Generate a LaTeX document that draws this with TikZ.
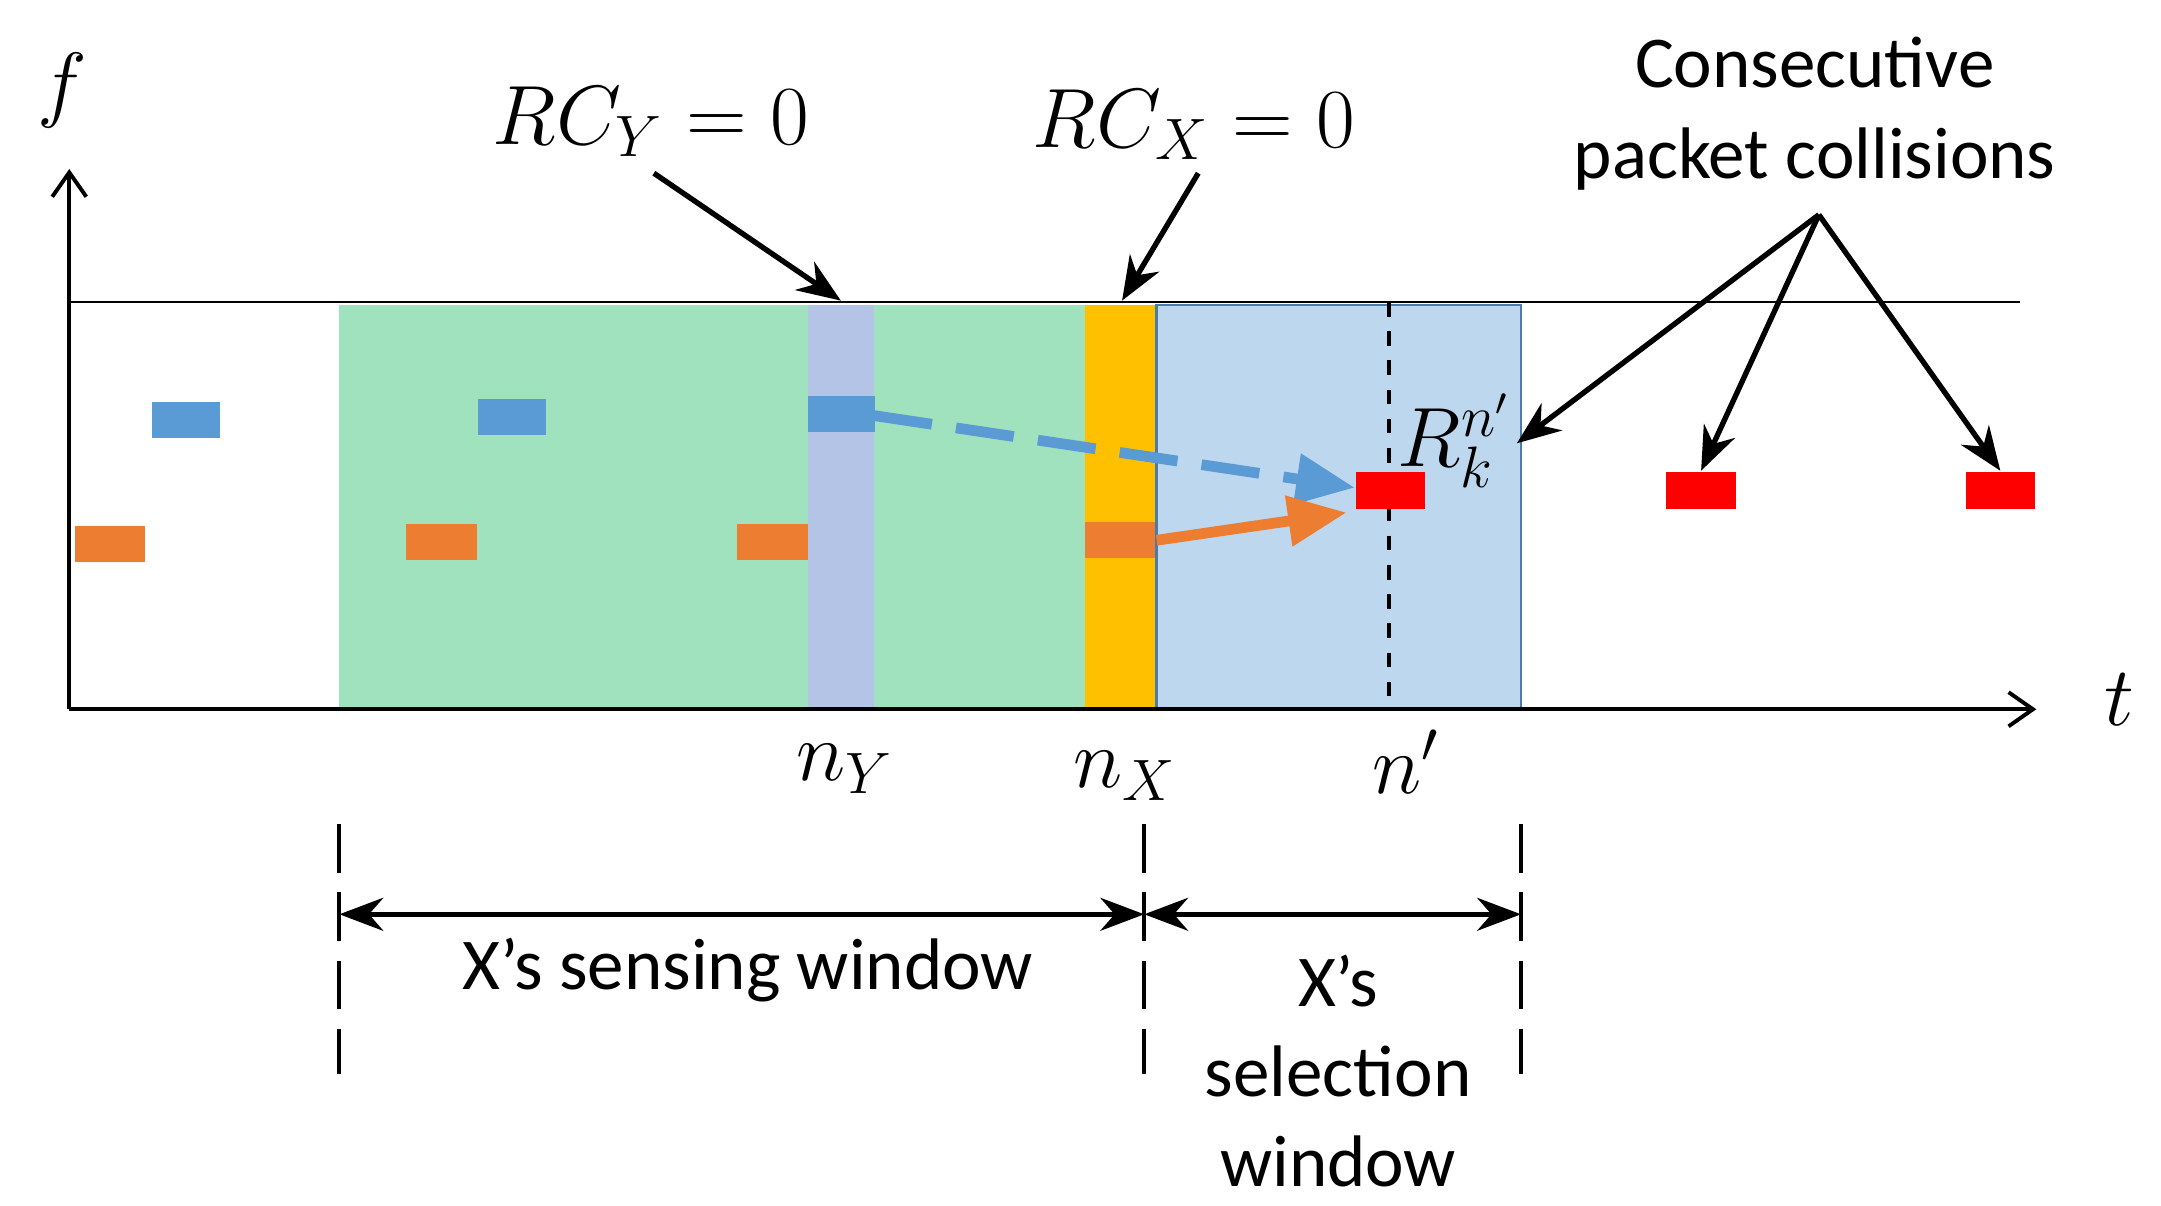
\documentclass[tikz,border=0pt]{standalone}
\usepackage{fontspec}
\setmainfont{Carlito}
\usetikzlibrary{arrows.meta}
\begin{document}
\begin{tikzpicture}[x=0.1mm,y=-0.1mm,
  txt/.style={font=\fontsize{15}{18.5}\selectfont,inner sep=0},
  mth/.style={font=\fontsize{17}{20}\selectfont,inner sep=0},
  ptr/.style={-{Stealth[length=9pt,width=7pt]},line width=1.1pt},
  pk/.style={draw=none}]
\definecolor{gr}{HTML}{A0E2BD}\definecolor{lav}{HTML}{B4C4E6}
\definecolor{og}{HTML}{FFC000}\definecolor{lb}{HTML}{BDD7EE}
\definecolor{bp}{HTML}{5B9BD5}\definecolor{op}{HTML}{ED7D31}
\useasboundingbox (0,0) rectangle (1560,870);
\fill[gr] (245,220) rectangle (783,512);
\fill[lav] (583,220) rectangle (631,512);
\fill[og] (783,220) rectangle (835,512);
\filldraw[fill=lb,draw=bp!80!black,line width=0.5pt] (835,220) rectangle (1098,512);
\draw[dashed,line width=0.8pt] (1003,218) -- (1003,512);
\draw[line width=0.5pt] (50,218) -- (1458,218);
\coordinate (o) at (50,512);\coordinate (fy) at (50,122);\coordinate (tx) at (1470,512);
\draw[-{Straight Barb[length=5pt,width=7pt]},line width=0.8pt] (o) -- (fy);
\draw[-{Straight Barb[length=5pt,width=7pt]},line width=0.8pt] (o) -- (tx);
\node[mth] (f) at (45,65) {$f$};
\node[mth] (t) at (1530,505) {$t$};
\foreach \x/\y [count=\i] in {110/290,345/288,583/286}
  \fill[bp] (\x,\y) rectangle ++(49,26);
\foreach \x/\y in {54/380,293/378,532/378,783/377}
  \fill[op] (\x,\y) rectangle ++(51,26);
\node[fill=red,minimum width=5mm,minimum height=2.7mm,inner sep=0] (r1) at (1004,354) {};
\node[fill=red,minimum width=5mm,minimum height=2.7mm,inner sep=0] (r2) at (1228,354) {};
\node[fill=red,minimum width=5mm,minimum height=2.7mm,inner sep=0] (r3) at (1444,354) {};
\coordinate (bs) at (631,300);\coordinate (os) at (835,390);
\draw[bp,line width=2.2pt,dash pattern=on 12pt off 5pt,-{Triangle[length=12pt,width=10pt]}] (bs) -- (978,352);
\draw[op,line width=2.2pt,-{Triangle[length=12pt,width=10pt]}] (os) -- (972,370);
\node[mth] (rk) at (1050,318) {$R_k^{n'}$};
\node[mth] (rcy) at (470,88) {$RC_Y=0$};
\node[mth] (rcx) at (862,90) {$RC_X=0$};
\coordinate (ly) at (607,217);\coordinate (lx) at (810,217);
\draw[ptr] (472,125) -- (ly);
\draw[ptr] (865,125) -- (lx);
\node[txt,align=center] (cc) at (1310,82) {Consecutive\\packet collisions};
\coordinate (cs) at (1313,155);
\draw[ptr] (cs) -- (1095,320);
\draw[ptr] (cs) -- (r2.north);
\draw[ptr] (cs) -- (r3.north);
\node[mth] (ny) at (610,555) {$n_Y$};
\node[mth] (nx) at (812,560) {$n_X$};
\node[mth] (np) at (1015,550) {$n'$};
\foreach \x in {245,826,1098} \draw[line width=0.8pt,dash pattern=on 10pt off 4pt] (\x,595) -- (\x,775);
\coordinate (a1) at (245,660);\coordinate (a2) at (826,660);\coordinate (a3) at (1098,660);
\draw[{Stealth[length=9pt]}-{Stealth[length=9pt]},line width=1.1pt] (a1) -- (a2);
\draw[{Stealth[length=9pt]}-{Stealth[length=9pt]},line width=1.1pt] (a2) -- (a3);
\node[txt] (sw) at (540,700) {X’s sensing window};
\node[txt,align=center] (sel) at (966,773) {X’s\\selection\\window};
\end{tikzpicture}
\end{document}
